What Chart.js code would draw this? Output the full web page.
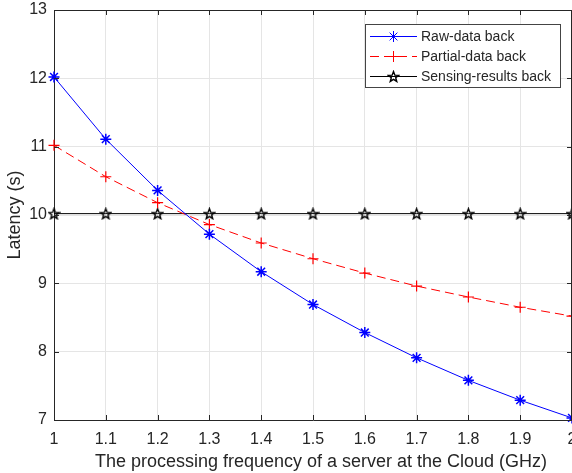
<!DOCTYPE html>
<html>
<head>
<meta charset="utf-8">
<script src="https://cdn.jsdelivr.net/npm/chart.js@4.4.1/dist/chart.umd.min.js"></script>
<style>
  html, body { margin: 0; padding: 0; background: #fff; overflow: hidden; }
  #wrap { width: 572px; height: 473px; position: relative; }
  canvas { display: block; }
</style>
</head>
<body>
<div id="wrap"><canvas id="myChart"></canvas></div>
<script>
// frequency of the cloud server (GHz)
const freq = [1, 1.1, 1.2, 1.3, 1.4, 1.5, 1.6, 1.7, 1.8, 1.9, 2];

// latency (s)
const rawBack = [12.02, 11.11, 10.36, 9.72, 9.17, 8.69, 8.28, 7.91, 7.58, 7.29, 7.03];
const partialBack = [11.02, 10.56, 10.18, 9.86, 9.59, 9.36, 9.15, 8.96, 8.80, 8.65, 8.52];
const sensingBack = [10.02, 10.02, 10.02, 10.02, 10.02, 10.02, 10.02, 10.02, 10.02, 10.02, 10.02];

const seriesNames = ['Raw-data back', 'Partial-data back', 'Sensing-results back'];
const yTicks = [7, 8, 9, 10, 11, 12, 13];
const xTitle = 'The processing frequency of a server at the Cloud (GHz)';

const FONT = 'Arial, "Liberation Sans", Helvetica, sans-serif';
const TEXT = '#262626';

// five point star marker (matlab 'p')
const makeStar = (size, color) => {
	const c = document.createElement('canvas');
	c.width = size; c.height = size;
	const g = c.getContext('2d');
	const cx = size / 2, cy = size / 2 + 0.5;
	const R = size / 2 - 1, r = R * 0.42;
	g.beginPath();
	for (let i = 0; i < 10; i++) {
		const rad = i % 2 === 0 ? R : r;
		const a = -Math.PI / 2 + i * Math.PI / 5;
		const px = cx + rad * Math.cos(a), py = cy + rad * Math.sin(a);
		if (i === 0) g.moveTo(px, py); else g.lineTo(px, py);
	}
	g.closePath();
	g.lineWidth = 1.4;
	g.lineJoin = 'miter';
	g.strokeStyle = color;
	g.stroke();
	return c;
};
const starImg = makeStar(13, '#000');

const toPoints = (ys) => freq.map((f, i) => ({ x: f, y: ys[i] }));

// box on top/right, inner tick marks, x title, legend
const matlabAxes = {
	id: 'matlabAxes',
	afterDraw(chart) {
		const { ctx, chartArea: a, scales } = chart;
		ctx.save();
		ctx.strokeStyle = TEXT;
		ctx.lineWidth = 1;
		ctx.beginPath();
		ctx.moveTo(a.left, a.top + 0.5); ctx.lineTo(a.right, a.top + 0.5);
		ctx.moveTo(a.right - 0.5, a.top); ctx.lineTo(a.right - 0.5, a.bottom);
		// inner ticks
		freq.forEach((f) => {
			const x = Math.round(scales.x.getPixelForValue(f)) + 0.5;
			ctx.moveTo(x, a.bottom); ctx.lineTo(x, a.bottom - 5);
			ctx.moveTo(x, a.top); ctx.lineTo(x, a.top + 5);
		});
		yTicks.forEach((v) => {
			const y = Math.round(scales.y.getPixelForValue(v)) + 0.5;
			ctx.moveTo(a.left, y); ctx.lineTo(a.left + 5, y);
			ctx.moveTo(a.right, y); ctx.lineTo(a.right - 5, y);
		});
		ctx.stroke();

		// x axis title (a bit right of the axes centre, like the original)
		ctx.fillStyle = TEXT;
		ctx.font = '18px ' + FONT;
		ctx.textAlign = 'center';
		ctx.textBaseline = 'alphabetic';
		ctx.fillText(xTitle, 321, 467);

		// legend box
		const bx = 365.5, by = 24.5, bw = 195, bh = 63;
		ctx.fillStyle = '#fff';
		ctx.fillRect(bx, by, bw, bh);
		ctx.strokeStyle = '#444';
		ctx.strokeRect(bx, by, bw, bh);
		ctx.font = '14px ' + FONT;
		ctx.textAlign = 'left';
		ctx.textBaseline = 'middle';
		chart.data.datasets.forEach((ds, i) => {
			const y = 36 + i * 20;
			ctx.strokeStyle = ds.borderColor;
			ctx.lineWidth = 1;
			ctx.setLineDash(ds.borderDash || []);
			ctx.beginPath();
			ctx.moveTo(370, y + 0.5); ctx.lineTo(417, y + 0.5);
			ctx.stroke();
			ctx.setLineDash([]);
			ctx.strokeStyle = ds.pointBorderColor || ds.borderColor;
			Chart.helpers.drawPoint(ctx, {
				pointStyle: ds.pointStyle,
				radius: ds.pointRadius,
				borderWidth: ds.pointBorderWidth,
				rotation: 0
			}, 393.5, y + 0.5);
			ctx.fillStyle = TEXT;
			ctx.fillText(ds.label, 421, y + 1);
		});
		ctx.restore();
	}
};

const ctx = document.getElementById('myChart');
const myChart = new Chart(ctx, {
	type: 'line',
	data: {
		datasets: [
			{
				label: seriesNames[0],
				data: toPoints(rawBack),
				borderColor: '#0000ff',
				backgroundColor: '#0000ff',
				borderWidth: 1,
				pointStyle: 'star',
				pointRadius: 5.5,
				pointBorderWidth: 1.5,
				pointBorderColor: '#0000ff',
				tension: 0,
				clip: false
			},
			{
				label: seriesNames[1],
				data: toPoints(partialBack),
				borderColor: '#ff0000',
				backgroundColor: '#ff0000',
				borderWidth: 1,
				borderDash: [9, 5],
				pointStyle: 'cross',
				pointRadius: 5.5,
				pointBorderWidth: 1.2,
				pointBorderColor: '#ff0000',
				tension: 0,
				clip: false
			},
			{
				label: seriesNames[2],
				data: toPoints(sensingBack),
				borderColor: '#000000',
				backgroundColor: '#000000',
				borderWidth: 1,
				pointStyle: starImg,
				pointRadius: 6,
				pointBorderWidth: 1,
				tension: 0,
				clip: false
			}
		]
	},
	options: {
		animation: false,
		responsive: true,
		maintainAspectRatio: false,
		layout: { autoPadding: false, padding: { top: 10, right: 0, left: 0, bottom: 0 } },
		plugins: {
			legend: { display: false },
			tooltip: { enabled: false }
		},
		scales: {
			x: {
				type: 'linear',
				min: 1,
				max: 2,
				ticks: {
					stepSize: 0.1,
					color: TEXT,
					font: { family: FONT, size: 16 },
					padding: 10,
					maxRotation: 0,
					autoSkip: false,
					callback: (v) => String(Number(v.toFixed(1)))
				},
				grid: { color: '#e5e5e5', drawTicks: false },
				border: { color: TEXT, width: 1 },
				title: { display: false },
				afterFit: (s) => { s.height = 53; s.paddingLeft = 0; s.paddingRight = 0; }
			},
			y: {
				min: 7,
				max: 13,
				ticks: {
					stepSize: 1,
					color: TEXT,
					font: { family: FONT, size: 16 },
					padding: 7
				},
				grid: { color: '#e5e5e5', drawTicks: false },
				border: { color: TEXT, width: 1 },
				title: {
					display: true,
					text: 'Latency (s)',
					color: TEXT,
					font: { family: FONT, size: 18 },
					padding: { top: 4, bottom: 0 }
				},
				afterFit: (s) => { s.width = 54; s.paddingTop = 0; s.paddingBottom = 0; }
			}
		}
	},
	plugins: [matlabAxes]
});
</script>
</body>
</html>
